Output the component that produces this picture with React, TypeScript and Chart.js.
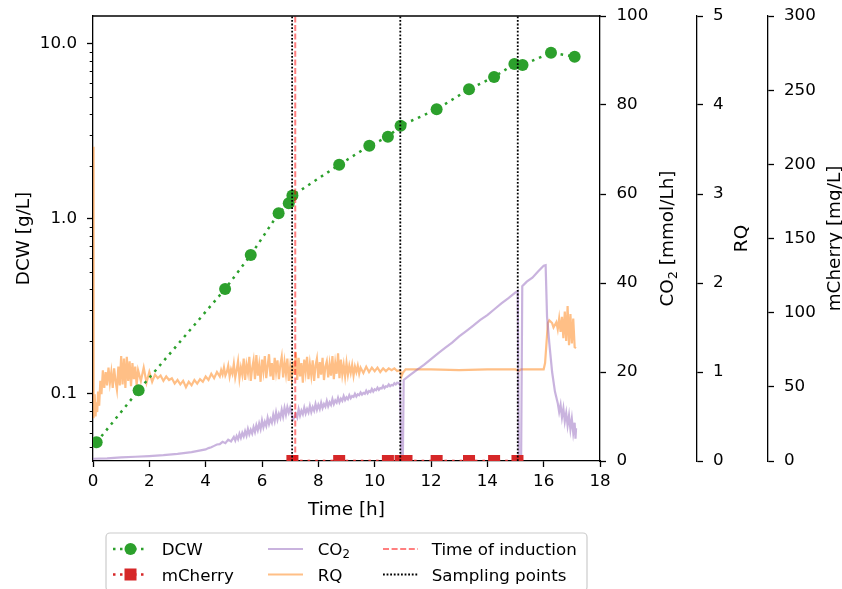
import React, { useEffect, useRef } from "react";
import { Chart, registerables } from "chart.js";
Chart.register(...registerables);

// ---------------- data ----------------
const xTicks = [0, 2, 4, 6, 8, 10, 12, 14, 16, 18];
const dcwTickValues = [0.1, 1, 10];
const dcwTickLabels = ["0.1", "1.0", "10.0"];
const dcwMinorTicks = [0.05, 0.06, 0.07, 0.08, 0.09, 0.2, 0.3, 0.4, 0.5, 0.6, 0.7, 0.8, 0.9, 2, 3, 4, 5, 6, 7, 8, 9];
const co2TickStep = 20;
const rqTickStep = 1;
const mCherryTickStep = 50;

const dcwTime = [0.13, 1.62, 4.69, 5.6, 6.59, 6.95, 7.08, 8.74, 9.81, 10.47, 10.92, 12.2, 13.35, 14.24, 14.96, 15.25, 16.26, 17.1];
const dcwValues = [0.053, 0.105, 0.398, 0.622, 1.078, 1.23, 1.36, 2.04, 2.62, 2.95, 3.41, 4.23, 5.51, 6.48, 7.69, 7.59, 8.92, 8.46];

const mCherryTime = [7.08, 8.74, 10.47, 10.92, 11.13, 12.2, 13.35, 14.24, 15.07];
const mCherryValues = [0, 0, 0, 0, 0, 0, 0, 0, 0];

const co2Time = [
  0, 0.5, 1, 1.5, 2, 2.5, 3, 3.5, 4.0, 4.1, 4.2, 4.3, 4.4, 4.5, 4.6, 4.7, 4.8, 4.9,
  5.0, 5.05, 5.1, 5.15, 5.2, 5.25, 5.3, 5.35, 5.4, 5.45, 5.5, 5.55, 5.6, 5.65, 5.7, 5.75, 5.8, 5.85, 5.9, 5.95,
  6.0, 6.05, 6.1, 6.15, 6.2, 6.25, 6.3, 6.35, 6.4, 6.45, 6.5, 6.55, 6.6, 6.65, 6.7, 6.75, 6.8, 6.85, 6.9, 6.95,
  7.0, 7.05, 7.1, 7.15, 7.2, 7.25, 7.3, 7.35, 7.4, 7.45, 7.5, 7.55, 7.6, 7.65, 7.7, 7.75, 7.8, 7.85, 7.9, 7.95,
  8.0, 8.05, 8.1, 8.15, 8.2, 8.25, 8.3, 8.35, 8.4, 8.45, 8.5, 8.55, 8.6, 8.65, 8.7, 8.75, 8.8, 8.85, 8.9, 8.95,
  9.0, 9.05, 9.1, 9.15, 9.2, 9.25, 9.3, 9.35, 9.4, 9.45, 9.5, 9.55, 9.6, 9.65, 9.7, 9.75, 9.8, 9.85, 9.9, 9.95,
  10.0, 10.05, 10.1, 10.15, 10.2, 10.25, 10.3, 10.35, 10.4, 10.45, 10.5, 10.55, 10.6, 10.65, 10.7, 10.75, 10.8, 10.85, 10.9,
  10.95, 11.0, 11.03, 11.25, 11.5, 11.75, 12.0, 12.25, 12.5, 12.75, 13.0, 13.25, 13.5, 13.75, 14.0, 14.25, 14.5, 14.75, 15.0, 15.08,
  15.12, 15.2, 15.24, 15.4, 15.6, 15.8, 16.0, 16.07, 16.12, 16.2, 16.3, 16.4, 16.5,
  16.55, 16.6, 16.65, 16.7, 16.75, 16.8, 16.85, 16.9, 16.95, 17.0, 17.05, 17.1, 17.13, 17.15,
];
const co2Values = [
  0.5, 0.6, 0.8, 0.95, 1.1, 1.3, 1.6, 2.0, 2.6, 2.9, 3.1, 3.4, 3.7, 3.8, 4.3, 4.0, 4.8, 4.4,
  5.4, 4.6, 5.6, 4.9, 6.1, 5.2, 6.3, 5.5, 6.7, 5.7, 7.2, 6.0, 7.0, 6.2, 7.6, 6.5, 8.0, 6.9, 8.4, 7.2,
  9.1, 7.6, 8.8, 7.9, 9.7, 8.3, 9.4, 8.6, 10.4, 9.0, 10.9, 9.3, 10.6, 9.7, 11.5, 10.0, 11.9, 10.4, 12.1, 10.9,
  12.0, 10.8, 9.3, 9.7, 10.6, 9.8, 11.6, 10.2, 11.3, 10.5, 12.0, 10.7, 11.7, 10.9, 12.4, 11.0, 12.1, 11.3, 12.8, 11.5,
  12.6, 11.7, 13.1, 11.9, 12.8, 12.2, 13.5, 12.3, 13.2, 12.6, 13.9, 12.8, 13.6, 13.1, 14.2, 13.2, 14.0, 13.5, 14.6, 13.7,
  14.3, 13.9, 14.8, 14.1, 14.6, 14.4, 15.1, 14.5, 15.0, 14.8, 15.4, 14.9, 15.3, 15.1, 15.8, 15.2, 15.7, 15.5, 16.2, 15.6,
  16.1, 15.9, 16.5, 16.0, 16.4, 16.3, 16.9, 16.4, 16.8, 16.7, 17.2, 16.8, 17.1, 17.0, 17.5, 17.2, 17.6, 17.4, 17.8,
  0.3, 0.2, 18.2, 19.3, 20.5, 21.6, 22.9, 24.2, 25.4, 26.6, 28.0, 29.2, 30.4, 31.7, 32.8, 34.1, 35.4, 36.6, 37.9, 38.2,
  0.3, 0.2, 39.3, 40.3, 41.2, 42.6, 43.9, 44.0, 32.4, 26.5, 20.0, 15.6, 13.0,
  11.0, 12.6, 9.8, 11.8, 8.9, 10.8, 8.0, 10.2, 7.1, 9.5, 6.3, 8.6, 5.0, 7.4,
];

const rqTime = [
  0, 0.01, 0.03, 0.06, 0.09, 0.12, 0.15, 0.18, 0.22, 0.26, 0.3, 0.35, 0.4, 0.45, 0.5, 0.55, 0.6, 0.65, 0.7, 0.75,
  0.8, 0.85, 0.9, 0.95, 1.0, 1.05, 1.1, 1.15, 1.2, 1.25, 1.3, 1.35, 1.4, 1.45, 1.5, 1.55, 1.6, 1.7, 1.8, 1.9,
  2.0, 2.1, 2.2, 2.3, 2.4, 2.5, 2.6, 2.7, 2.8, 2.9, 3.0, 3.1, 3.2, 3.3, 3.4, 3.5, 3.6, 3.7, 3.8, 3.9,
  4.0, 4.1, 4.2, 4.3, 4.4,
  4.5, 4.55, 4.6, 4.65, 4.7, 4.75, 4.8, 4.85, 4.9, 4.95,
  5.0, 5.05, 5.1, 5.15, 5.2, 5.25, 5.3, 5.35, 5.4, 5.45, 5.5, 5.55, 5.6, 5.65, 5.7, 5.75, 5.8, 5.85, 5.9, 5.95,
  6.0, 6.05, 6.1, 6.15, 6.2, 6.25, 6.3, 6.35, 6.4, 6.45, 6.5, 6.55, 6.6, 6.65, 6.7, 6.75, 6.8, 6.85, 6.9, 6.95,
  7.0, 7.05, 7.1, 7.15, 7.2, 7.25, 7.3, 7.35, 7.4, 7.45, 7.5, 7.55, 7.6, 7.65, 7.7, 7.75, 7.8, 7.85, 7.9, 7.95,
  8.0, 8.05, 8.1, 8.15, 8.2, 8.25, 8.3, 8.35, 8.4, 8.45, 8.5, 8.55, 8.6, 8.65, 8.7, 8.75, 8.8, 8.85, 8.9, 8.95,
  9.0, 9.05, 9.1, 9.15, 9.2, 9.25, 9.3, 9.35, 9.4, 9.45, 9.5,
  9.6, 9.7, 9.8, 9.9, 10.0, 10.1, 10.2, 10.3, 10.4, 10.5, 10.6, 10.7, 10.8, 10.9,
  10.95, 11.0, 11.1, 12.0, 13.0, 14.0, 15.0, 15.1, 15.2, 16.0,
  16.05, 16.15, 16.2, 16.3, 16.35, 16.45, 16.5, 16.55, 16.6, 16.65, 16.7, 16.75, 16.8, 16.85, 16.9, 16.95, 17.0, 17.05, 17.1, 17.15,
];
const rqValues = [
  3.53, 1.1, 0.48, 0.75, 0.5, 0.66, 0.55, 0.78, 0.62, 0.9, 0.75, 1.02, 0.82, 1.0, 0.85, 1.05, 0.88, 1.0, 0.82, 1.04,
  0.9, 0.8, 1.06, 0.85, 1.18, 0.86, 1.15, 0.82, 1.17, 0.9, 1.12, 0.84, 1.1, 0.92, 1.06, 0.85, 1.02, 0.9, 1.05, 0.88,
  1.0, 0.89, 0.97, 0.93, 0.96, 0.9, 0.95, 0.91, 0.93, 0.87, 0.91, 0.86, 0.9, 0.83, 0.89, 0.85, 0.91, 0.87, 0.92, 0.89,
  0.95, 0.91, 0.98, 0.93, 1.0,
  0.95, 1.02, 0.97, 1.05, 0.96, 1.0, 1.07, 0.95, 1.03, 0.98,
  1.09, 0.94, 1.02, 1.12, 0.93, 1.05, 0.97, 1.15, 0.91, 1.08, 0.99, 1.17, 0.9, 1.04, 1.13, 0.92, 1.19, 0.96, 1.08, 0.89,
  1.14, 1.01, 1.18, 0.93, 1.07, 1.2, 0.95, 1.1, 0.91, 1.16, 1.0, 1.13, 0.92, 1.08, 1.17, 0.94, 1.11, 0.98, 1.15, 0.9,
  1.06, 0.93, 1.12, 0.97, 1.22, 0.91, 1.16, 0.95, 1.1, 0.88, 1.14, 1.0, 1.17, 0.92, 1.09, 0.96, 1.13, 0.9, 1.07, 1.15,
  0.93, 1.11, 0.97, 1.16, 0.91, 1.06, 1.12, 0.94, 1.09, 0.96, 1.18, 0.92, 1.1, 0.98, 1.21, 0.93, 1.14, 0.97, 1.08, 0.95,
  1.1, 0.97, 1.07, 0.99, 1.08, 0.96, 1.06, 1.0, 1.07, 0.98, 1.05,
  0.99, 1.06, 1.0, 1.05, 1.01, 1.05, 1.0, 1.04, 1.01, 1.04, 1.02, 1.04, 1.01, 1.02,
  0.95, 0.99, 1.03, 1.03, 1.02, 1.03, 1.03, 1.01, 1.03, 1.03,
  1.1, 1.55, 1.58, 1.55, 1.5, 1.56, 1.48, 1.6, 1.45, 1.62, 1.38, 1.68, 1.35, 1.74, 1.3, 1.65, 1.32, 1.6, 1.28, 1.27,
];

const samplingTimes = [7.07, 10.91, 15.08];
const inductionTime = 7.18;

// ---------------- styles ----------------
const FONT = '"DejaVu Sans", sans-serif';
const FS = 16.7;
const TS = 18.4;
const GREEN = "#2ca02c";
const RED = "#d62728";
const PURPLE = "rgba(148,103,189,0.5)";
const ORANGE = "rgba(255,127,14,0.5)";
const INDUCTION = "rgba(255,0,0,0.5)";

type Seg = { t: string; sub?: boolean };

function drawRich(ctx: CanvasRenderingContext2D, segs: Seg[], x: number, y: number, center: boolean, size: number) {
  const widths = segs.map((s) => {
    ctx.font = `${s.sub ? size * 0.7 : size}px ${FONT}`;
    return ctx.measureText(s.t).width;
  });
  const total = widths.reduce((a, b) => a + b, 0);
  let cx = center ? x - total / 2 : x;
  ctx.textAlign = "left";
  ctx.textBaseline = "alphabetic";
  segs.forEach((s, i) => {
    ctx.font = `${s.sub ? size * 0.7 : size}px ${FONT}`;
    ctx.fillText(s.t, cx, y + (s.sub ? size * 0.2 : 0));
    cx += widths[i];
  });
}

function drawVTitle(ctx: CanvasRenderingContext2D, segs: Seg[], x: number, y: number) {
  ctx.save();
  ctx.translate(x, y);
  ctx.rotate(-Math.PI / 2);
  drawRich(ctx, segs, 0, 0, true, TS);
  ctx.restore();
}

const decorPlugin = {
  id: "decor",
  afterDraw(chart: any) {
    const ctx: CanvasRenderingContext2D = chart.ctx;
    const area = chart.chartArea;
    ctx.save();
    // top spine
    ctx.strokeStyle = "#000";
    ctx.lineWidth = 1.3;
    ctx.beginPath();
    ctx.moveTo(area.left - 0.65, area.top);
    ctx.lineTo(area.right + 0.65, area.top);
    ctx.stroke();
    // minor ticks on log axis
    const ys = chart.scales.yDCW;
    ctx.lineWidth = 1;
    dcwMinorTicks.forEach((v) => {
      const p = Math.round(ys.getPixelForValue(v)) + 0.5;
      ctx.beginPath();
      ctx.moveTo(area.left, p);
      ctx.lineTo(area.left - 3.3, p);
      ctx.stroke();
    });
    // axis titles
    ctx.fillStyle = "#000";
    const cy = (area.top + area.bottom) / 2;
    drawVTitle(ctx, [{ t: "DCW [g/L]" }], 28.5, cy);
    drawVTitle(ctx, [{ t: "CO" }, { t: "2", sub: true }, { t: " [mmol/Lh]" }], chart.scales.yCO2.left + 73, cy);
    drawVTitle(ctx, [{ t: "RQ" }], chart.scales.yRQ.left + 50.3, cy);
    drawVTitle(ctx, [{ t: "mCherry [mg/L]" }], chart.scales.yMC.left + 72, cy);
    drawRich(ctx, [{ t: "Time [h]" }], (area.left + area.right) / 2, 515, true, TS);

    // legend
    const bx = 106, by = 533, bw = 481, bh = 58, r = 4;
    ctx.beginPath();
    ctx.moveTo(bx + r, by);
    ctx.lineTo(bx + bw - r, by);
    ctx.arcTo(bx + bw, by, bx + bw, by + r, r);
    ctx.lineTo(bx + bw, by + bh - r);
    ctx.arcTo(bx + bw, by + bh, bx + bw - r, by + bh, r);
    ctx.lineTo(bx + r, by + bh);
    ctx.arcTo(bx, by + bh, bx, by + bh - r, r);
    ctx.lineTo(bx, by + r);
    ctx.arcTo(bx, by, bx + r, by, r);
    ctx.closePath();
    ctx.fillStyle = "rgba(255,255,255,0.8)";
    ctx.fill();
    ctx.strokeStyle = "#cccccc";
    ctx.lineWidth = 1.2;
    ctx.stroke();

    const rows = [549, 574.5];
    const hx = [113, 268, 383];
    const hw = 35;
    const tx = [161.7, 317.7, 431.7];
    const line = (x0: number, y: number, color: string, lw: number, dash: number[]) => {
      ctx.save();
      ctx.strokeStyle = color;
      ctx.lineWidth = lw;
      ctx.setLineDash(dash);
      ctx.beginPath();
      ctx.moveTo(x0, y);
      ctx.lineTo(x0 + hw, y);
      ctx.stroke();
      ctx.restore();
    };
    // DCW
    line(hx[0], rows[0], GREEN, 2.5, [2.5, 4.5]);
    ctx.fillStyle = GREEN;
    ctx.beginPath();
    ctx.arc(hx[0] + hw / 2, rows[0], 6, 0, Math.PI * 2);
    ctx.fill();
    // mCherry
    line(hx[0], rows[1], RED, 2.5, [2.5, 4.5]);
    ctx.fillStyle = RED;
    ctx.fillRect(hx[0] + hw / 2 - 6, rows[1] - 6, 12, 12);
    // CO2, RQ
    line(hx[1], rows[0], PURPLE, 2.2, []);
    line(hx[1], rows[1], ORANGE, 2.2, []);
    // induction, sampling
    line(hx[2], rows[0], INDUCTION, 2, [6, 2.6]);
    line(hx[2], rows[1], "#000", 1.8, [1.8, 1.8]);

    ctx.fillStyle = "#000";
    drawRich(ctx, [{ t: "DCW" }], tx[0], rows[0] + 6, false, FS);
    drawRich(ctx, [{ t: "mCherry" }], tx[0], rows[1] + 6, false, FS);
    drawRich(ctx, [{ t: "CO" }, { t: "2", sub: true }], tx[1], rows[0] + 6, false, FS);
    drawRich(ctx, [{ t: "RQ" }], tx[1], rows[1] + 6, false, FS);
    drawRich(ctx, [{ t: "Time of induction" }], tx[2], rows[0] + 6, false, FS);
    drawRich(ctx, [{ t: "Sampling points" }], tx[2], rows[1] + 6, false, FS);
    ctx.restore();
  },
};

function pts(xs: number[], ys: number[]) {
  return xs.map((x, i) => ({ x, y: ys[i] }));
}

function axisCommon(width: number) {
  return {
    grid: { drawOnChartArea: false, drawTicks: true, tickLength: 6, tickWidth: 1.3, tickColor: "#000" },
    border: { display: true, color: "#000", width: 1.3 },
    title: { display: false },
    afterFit: (s: any) => {
      s.width = width;
      s.paddingTop = 0;
      s.paddingBottom = 0;
    },
  };
}

export default function App() {
  const ref = useRef<HTMLCanvasElement>(null);
  useEffect(() => {
    if (!ref.current) return;
    const vlines = samplingTimes.map((t) => ({
      data: [{ x: t, y: 0 }, { x: t, y: 100 }],
      yAxisID: "yCO2",
      borderColor: "#000",
      borderWidth: 1.8,
      borderDash: [1.8, 1.8],
      pointRadius: 0,
    }));
    const chart = new Chart(ref.current, {
      type: "line",
      data: {
        datasets: [
          ...vlines,
          {
            data: [{ x: inductionTime, y: 0 }, { x: inductionTime, y: 100 }],
            yAxisID: "yCO2",
            borderColor: INDUCTION,
            borderWidth: 2,
            borderDash: [6, 2.6],
            pointRadius: 0,
          },
          {
            data: pts(dcwTime, dcwValues),
            yAxisID: "yDCW",
            borderColor: GREEN,
            borderWidth: 2.5,
            borderDash: [2.6, 5],
            pointRadius: 6,
            pointBackgroundColor: GREEN,
            pointBorderWidth: 0,
          },
          {
            data: pts(mCherryTime, mCherryValues),
            yAxisID: "yMC",
            borderColor: RED,
            borderWidth: 2.5,
            borderDash: [2.6, 5],
            pointStyle: "rect",
            pointRadius: 8.5,
            pointBackgroundColor: RED,
            pointBorderWidth: 0,
          },
          {
            data: pts(co2Time, co2Values),
            yAxisID: "yCO2",
            borderColor: PURPLE,
            borderWidth: 2.2,
            pointRadius: 0,
          },
          {
            data: pts(rqTime, rqValues),
            yAxisID: "yRQ",
            borderColor: ORANGE,
            borderWidth: 2.2,
            pointRadius: 0,
          },
        ] as any,
      },
      options: {
        responsive: false,
        animation: false,
        events: [],
        devicePixelRatio: 1,
        layout: { padding: { left: 0, right: 0, top: 16, bottom: 0 } },
        plugins: { legend: { display: false }, tooltip: { enabled: false } },
        scales: {
          x: {
            type: "linear",
            position: "bottom",
            min: 0,
            max: 18,
            grid: { drawOnChartArea: false, drawTicks: true, tickLength: 6, tickWidth: 1.3, tickColor: "#000" },
            border: { display: true, color: "#000", width: 1.3 },
            afterBuildTicks: (s: any) => {
              s.ticks = xTicks.map((v) => ({ value: v }));
            },
            afterFit: (s: any) => {
              s.height = 128;
              s.paddingLeft = 0;
              s.paddingRight = 0;
            },
            ticks: { color: "#000", font: { family: FONT, size: FS }, padding: 5, maxRotation: 0 },
          },
          yDCW: {
            type: "logarithmic",
            position: "left",
            min: 0.0414,
            max: 14.45,
            ...axisCommon(93),
            afterBuildTicks: (s: any) => {
              s.ticks = dcwTickValues.map((v) => ({ value: v }));
            },
            ticks: {
              color: "#000",
              font: { family: FONT, size: FS },
              padding: 10,
              callback: (v: any) => dcwTickLabels[dcwTickValues.indexOf(Number(v))] ?? "",
            },
          },
          yCO2: {
            type: "linear",
            position: "right",
            min: 0,
            max: 100,
            ...axisCommon(97),
            ticks: { color: "#000", font: { family: FONT, size: FS }, padding: 10.5, stepSize: co2TickStep },
          },
          yRQ: {
            type: "linear",
            position: "right",
            min: 0,
            max: 5,
            ...axisCommon(71),
            ticks: { color: "#000", font: { family: FONT, size: FS }, padding: 10, stepSize: rqTickStep },
          },
          yMC: {
            type: "linear",
            position: "right",
            min: 0,
            max: 300,
            ...axisCommon(74),
            ticks: { color: "#000", font: { family: FONT, size: FS }, padding: 10, stepSize: mCherryTickStep },
          },
        } as any,
      },
      plugins: [decorPlugin],
    });
    return () => chart.destroy();
  }, []);
  return (
    <div style={{ position: "absolute", left: 0, top: 0, width: 842, height: 589, background: "#fff" }}>
      <canvas ref={ref} width={842} height={589} style={{ display: "block" }} />
    </div>
  );
}
